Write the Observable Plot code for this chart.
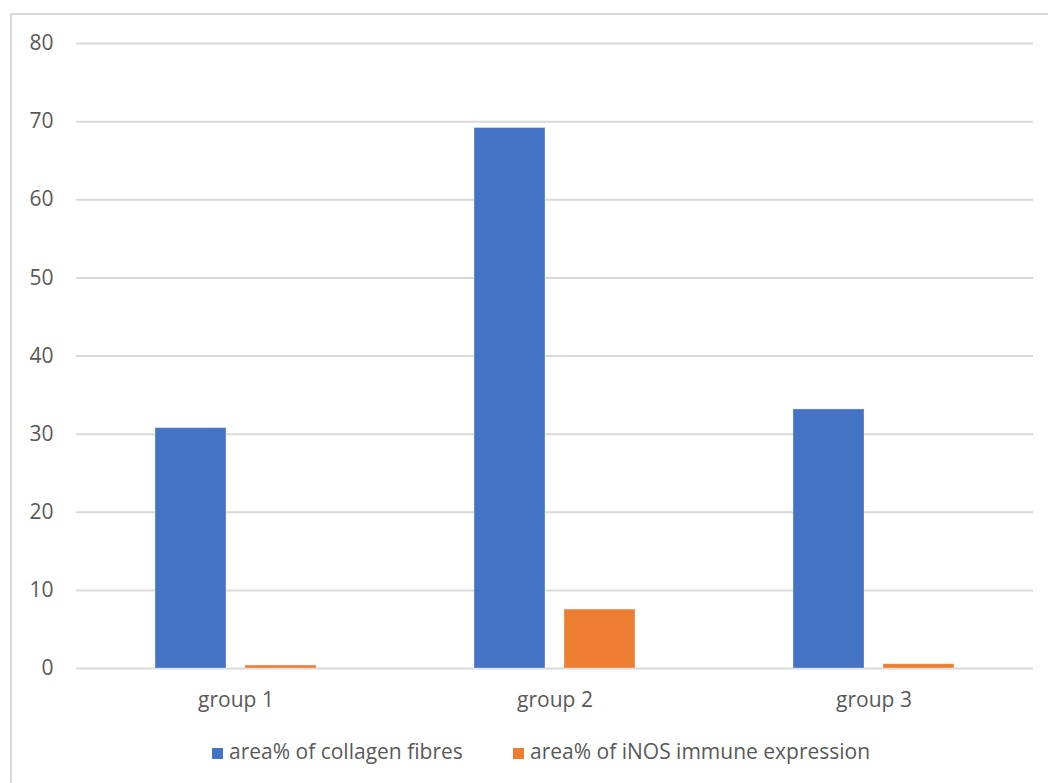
<!DOCTYPE html>
<html>
<head>
<meta charset="utf-8">
<script src="https://cdn.jsdelivr.net/npm/d3@7"></script>
<script src="https://cdn.jsdelivr.net/npm/@observablehq/plot@0.6"></script>
<style>
  html, body { margin: 0; padding: 0; background: #fff; overflow: hidden; }
  #wrap { position: relative; width: 1048px; height: 783px; font-family: 'Open Sans', sans-serif; color: #595959; }
  #chart { position: absolute; left: 0; top: 0; }
  #frame { position: absolute; left: 10px; top: 13px; width: 1100px; height: 900px; border: 2px solid #d9d9d9; pointer-events: none; }
  .leg { position: absolute; top: 741px; display: flex; align-items: flex-start; font-size: 21px; line-height: 21px; white-space: nowrap; }
  .leg .sw { width: 11px; height: 11px; margin-top: 7px; margin-right: 6px; }
</style>
</head>
<body>
<div id="wrap">
  <div id="chart"></div>
  <div id="legend"></div>
  <div id="frame"></div>
</div>
<script>
const groups = ["group 1", "group 2", "group 3"];
const seriesNames = ["area% of collagen fibres", "area% of iNOS immune expression"];
const collagen = [30.77, 69.18, 33.16];
const inos = [0.38, 7.54, 0.55];
const yTicks = [0, 10, 20, 30, 40, 50, 60, 70, 80];
const colors = ["#4472C4", "#ED7D31"];

const rows = [];
groups.forEach((g, i) => {
  rows.push({group: g, series: seriesNames[0], value: collagen[i]});
  rows.push({group: g, series: seriesNames[1], value: inos[i]});
});

const chart = Plot.plot({
  width: 1048,
  height: 725,
  marginLeft: 76,
  marginRight: 15,
  marginTop: 43,
  marginBottom: 57,
  style: {fontFamily: "'Open Sans', sans-serif", fontSize: "21px", color: "#595959", background: "transparent"},
  fx: {domain: groups, padding: 0, label: null},
  x: {domain: seriesNames, paddingInner: 0.21, paddingOuter: 0.86, axis: null},
  y: {domain: [0, 80], axis: null},
  color: {domain: seriesNames, range: colors},
  marks: [
    Plot.ruleY(yTicks, {stroke: "#d9d9d9", strokeWidth: 2}),
    Plot.barY(rows, {fx: "group", x: "series", y: "value", fill: "series", stroke: "white", strokeOpacity: 0.35, strokeWidth: 1}),
    Plot.axisY({ticks: yTicks, tickSize: 0, tickPadding: 23, fontSize: 21, label: null, tickFormat: d => String(d)}),
    Plot.axisFx({anchor: "bottom", tickSize: 0, tickPadding: 24, fontSize: 21, label: null})
  ]
});
document.getElementById("chart").appendChild(chart);

const legend = document.getElementById("legend");
const legLeft = [212, 513];
seriesNames.forEach((name, i) => {
  const item = document.createElement("div");
  item.className = "leg";
  item.style.left = legLeft[i] + "px";
  const sw = document.createElement("div");
  sw.className = "sw";
  sw.style.background = colors[i];
  const t = document.createElement("span");
  t.textContent = name;
  item.appendChild(sw);
  item.appendChild(t);
  legend.appendChild(item);
});
</script>
</body>
</html>
